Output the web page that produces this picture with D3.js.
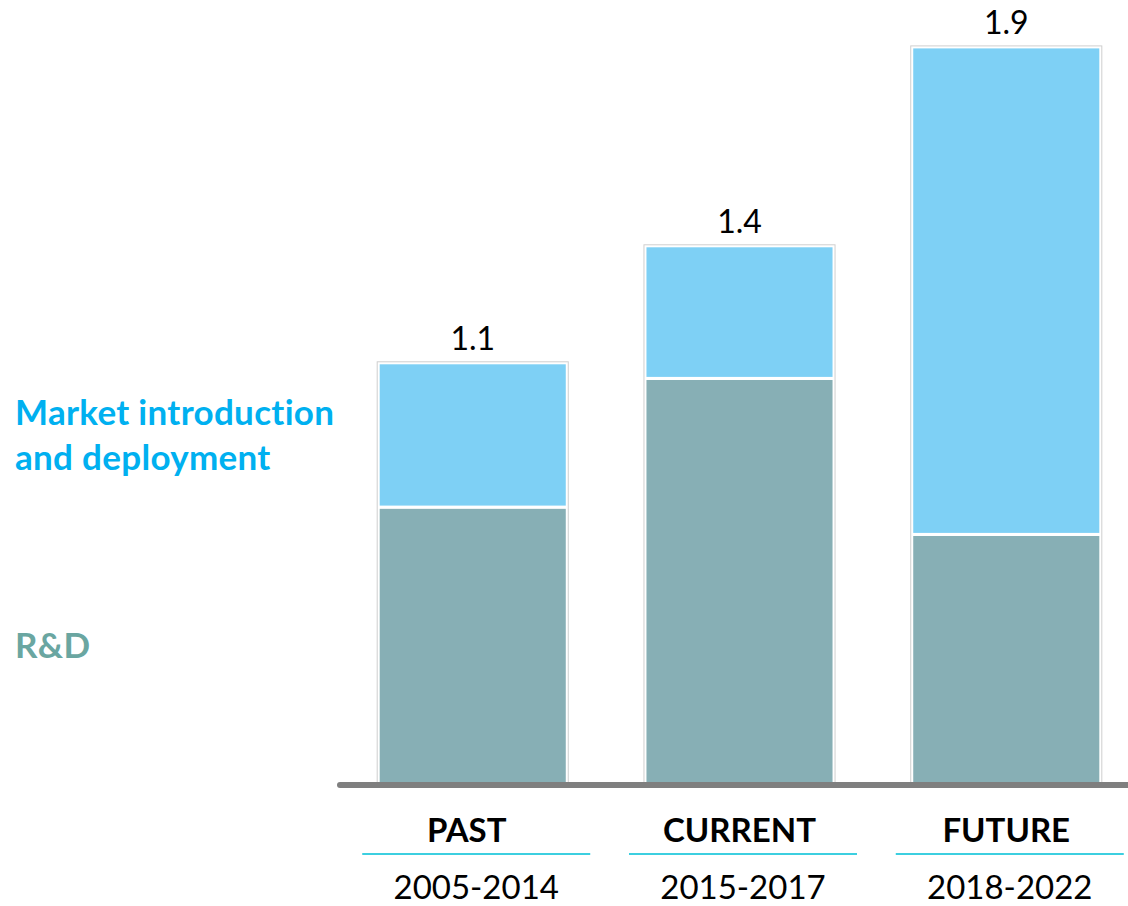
<!DOCTYPE html>
<html>
<head>
<meta charset="utf-8">
<script src="https://cdn.jsdelivr.net/npm/d3@7"></script>
<style>
  html, body { margin: 0; padding: 0; background: #fff; }
  svg { display: block; }
  text { font-family: Lato, "Open Sans", sans-serif; }
</style>
</head>
<body>
<svg id="chart" width="1128" height="906"></svg>
<script>
// ---- data ----
const categories = ["PAST", "CURRENT", "FUTURE"];
const periods = ["2005-2014", "2015-2017", "2018-2022"];
const rdValues = [0.71, 1.04, 0.64];
const marketValues = [0.37, 0.34, 1.25];
const seriesNames = ["R&D", "Market introduction and deployment"];
const legendLines = [["Market introduction", "and deployment"], ["R&D"]];

// ---- layout ----
const W = 1128, H = 906;
const svg = d3.select("#chart");

const x = d3.scaleBand()
  .domain(categories)
  .range([302, 1177])
  .paddingInner(0.28)
  .paddingOuter(0.28);

const y = d3.scaleLinear().domain([0, 2]).range([784, 4]);

const colors = { rd: "#87afb5", market: "#7ed0f5" };

const rows = categories.map((c, i) => ({
  cat: c, period: periods[i], rd: rdValues[i], market: marketValues[i],
  total: rdValues[i] + marketValues[i]
}));

const stack = d3.stack().keys(["rd", "market"])(rows);

// segments
const gBars = svg.append("g");
stack.forEach(layer => {
  gBars.selectAll(null)
    .data(layer)
    .join("rect")
    .attr("x", d => x(d.data.cat) + 1.5)
    .attr("width", x.bandwidth() - 3)
    .attr("y", d => y(d[1]))
    .attr("height", d => y(d[0]) - y(d[1]))
    .attr("fill", colors[layer.key])
    .attr("stroke", "#fff")
    .attr("stroke-width", 3);
});

// outer light border around each bar
gBars.selectAll(null)
  .data(rows)
  .join("rect")
  .attr("x", d => x(d.cat) + 0.5)
  .attr("width", x.bandwidth() - 1)
  .attr("y", d => y(d.total) - 1)
  .attr("height", d => y(0) - y(d.total) + 1)
  .attr("fill", "none")
  .attr("stroke", "#cfcfcf")
  .attr("stroke-width", 1);

// value labels
const fmt = d3.format(".1f");
svg.append("g").selectAll("text")
  .data(rows)
  .join("text")
  .attr("x", d => x(d.cat) + x.bandwidth() / 2)
  .attr("y", d => y(d.total) - 13)
  .attr("text-anchor", "middle")
  .attr("font-size", 32)
  .attr("fill", "#000")
  .text(d => fmt(d.total));

// baseline
svg.append("line")
  .attr("x1", 340).attr("x2", W + 10)
  .attr("y1", 785).attr("y2", 785)
  .attr("stroke", "#7f7f7f")
  .attr("stroke-width", 6)
  .attr("stroke-linecap", "round");

// category labels
const gCat = svg.append("g");
gCat.selectAll("text.cat")
  .data(rows)
  .join("text")
  .attr("class", "cat")
  .attr("x", d => x(d.cat) + x.bandwidth() / 2 + (d.cat === "PAST" ? -6 : 0))
  .attr("y", 842)
  .attr("text-anchor", "middle")
  .attr("font-size", 33)
  .attr("font-weight", "bold")
  .attr("fill", "#000")
  .text(d => d.cat);

gCat.selectAll("line")
  .data(rows)
  .join("line")
  .attr("x1", d => x(d.cat) + x.bandwidth() / 2 + 3.5 - 114)
  .attr("x2", d => x(d.cat) + x.bandwidth() / 2 + 3.5 + 114)
  .attr("y1", 854).attr("y2", 854)
  .attr("stroke", "#3ccfe0")
  .attr("stroke-width", 2);

gCat.selectAll("text.period")
  .data(rows)
  .join("text")
  .attr("class", "period")
  .attr("x", d => x(d.cat) + x.bandwidth() / 2 + 3.5)
  .attr("y", 899)
  .attr("text-anchor", "middle")
  .attr("font-size", 33)
  .attr("fill", "#000")
  .text(d => d.period);

// legend labels
const legendColors = ["#00b0f0", "#6aa6a1"];
const legendBase = [425, 658];
legendLines.forEach((lines, i) => {
  svg.append("text")
    .attr("x", 15)
    .attr("y", legendBase[i])
    .attr("font-size", 35)
    .attr("font-weight", "bold")
    .attr("letter-spacing", 0.3)
    .attr("fill", legendColors[i])
    .selectAll("tspan")
    .data(lines)
    .join("tspan")
    .attr("x", 15)
    .attr("dy", (d, j) => j === 0 ? 0 : 45)
    .text(d => d);
});
</script>
</body>
</html>
